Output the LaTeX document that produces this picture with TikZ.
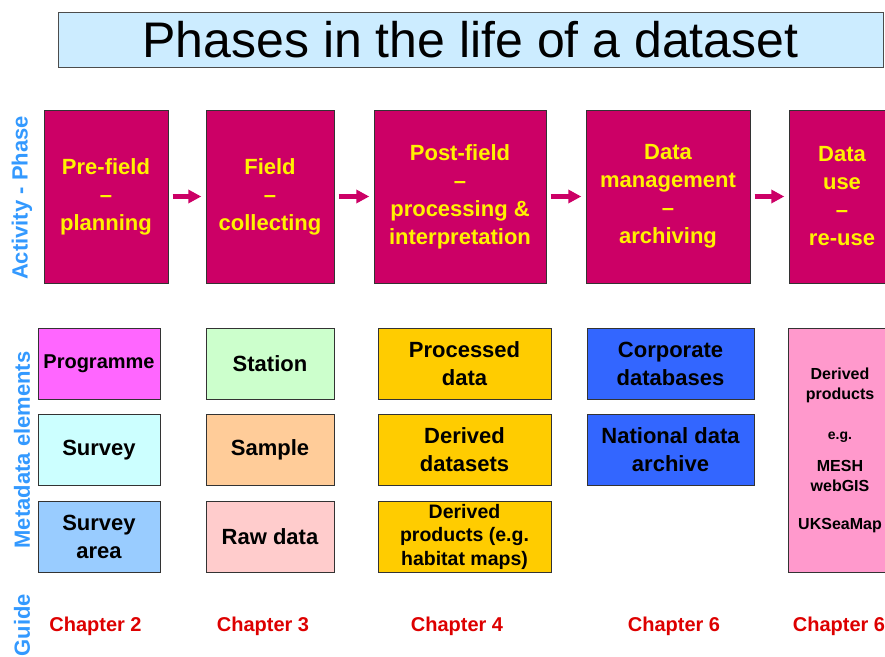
\documentclass[tikz,border=0pt]{standalone}
\usepackage{fontspec}
\setmainfont{Liberation Sans}
\usepackage {tikz}
\usetikzlibrary {positioning,arrows.meta}

\definecolor{phasered}{HTML}{CC0066}
\definecolor{titleblue}{HTML}{CCECFF}
\definecolor{sideblue}{HTML}{3399FF}
\definecolor{chapred}{HTML}{DD0000}
\definecolor{progpink}{HTML}{FF66FF}
\definecolor{survcyan}{HTML}{CCFFFF}
\definecolor{areablue}{HTML}{99CCFF}
\definecolor{statgreen}{HTML}{CCFFCC}
\definecolor{samppeach}{HTML}{FFCC99}
\definecolor{rawpink}{HTML}{FFCCCC}
\definecolor{procgold}{HTML}{FFCC00}
\definecolor{corpblue}{HTML}{3366FF}
\definecolor{derivpink}{HTML}{FF99CC}

\begin{document}
\begin{tikzpicture}[x=1pt ,y=-1pt ,node distance =86.5pt ,on grid ,
    phase/.style ={ rectangle ,draw=black!80 ,fill=phasered ,text=yellow ,
    minimum height =173pt ,inner sep=0pt ,align=center ,
    font=\fontsize{22}{28}\selectfont\bfseries},
    meta/.style ={ rectangle ,draw=black!80 ,minimum height =71pt ,
    inner sep=0pt ,align=center ,font=\fontsize{22}{28}\selectfont\bfseries},
    chap/.style ={text=chapred ,font=\fontsize{20}{24}\selectfont\bfseries},
    side/.style ={rotate=90 ,text=sideblue ,font=\fontsize{22}{26}\selectfont\bfseries},
    flow/.style ={-{Triangle[length=13pt,width=13pt]} ,draw=phasered ,
    line width=5pt ,shorten >=4.5pt ,shorten <=4.5pt}
    ]

    \useasboundingbox (0,0) rectangle (885,656);
    \clip (0,0) rectangle (885,656);

    % title
    \node[draw=black!70 ,fill=titleblue ,minimum width=825pt ,minimum height=55pt ,
      inner sep=0pt ,font=\fontsize{50}{56}\selectfont] (title) at (470.5,39.5)
      {Phases in the life of a dataset};

    % row labels
    \node[side] (act) at (22,198) {Activity - Phase};
    \node[side] (mel) at (22,450) {Metadata elements};
    \node[side] (gui) at (22,625) {Guide};

    % phases
    \node[phase ,minimum width=124pt] (pre) at (106,196.5) {Pre-field\\–\\planning};
    \node[phase ,minimum width=128pt] (field) at (270,196.5) {Field\\–\\collecting};
    \node[phase ,minimum width=172pt] (post) at (460,196.5)
      {Post-field\\–\\processing \&\\interpretation};
    \node[phase ,minimum width=164pt] (dman) at (668,196.5)
      {Data\\management\\–\\archiving};
    \node[phase ,minimum width=106pt] (reuse) at (842,196.5) {Data\\use\\–\\re-use};
    \draw[flow] (pre) -- (field);
    \draw[flow] (field) -- (post);
    \draw[flow] (post) -- (dman);
    \draw[flow] (dman) -- (reuse);

    % metadata elements
    \node[meta ,minimum width=122pt ,fill=progpink ,font=\fontsize{20}{24}\selectfont\bfseries]
      (prog) at (99,363.5) {Programme};
    \node[meta ,minimum width=122pt ,fill=survcyan] (surv) [below = of prog] {Survey};
    \node[meta ,minimum width=122pt ,fill=areablue] (area) [below = of surv] {Survey\\area};

    \node[meta ,minimum width=128pt ,fill=statgreen] (stat) at (270,363.5) {Station};
    \node[meta ,minimum width=128pt ,fill=samppeach] (samp) [below = of stat] {Sample};
    \node[meta ,minimum width=128pt ,fill=rawpink] (raw) [below = of samp] {Raw data};

    \node[meta ,minimum width=173pt ,fill=procgold] (proc) at (464.5,363.5)
      {Processed\\data};
    \node[meta ,minimum width=173pt ,fill=procgold] (dset) [below = of proc]
      {Derived\\datasets};
    \node[meta ,minimum width=173pt ,fill=procgold ,font=\fontsize{19.5}{23.5}\selectfont\bfseries]
      (dprod) [below = of dset] {Derived\\products (e.g.\\habitat maps)};

    \node[meta ,minimum width=167pt ,fill=corpblue] (corp) at (670.5,363.5)
      {Corporate\\databases};
    \node[meta ,minimum width=167pt ,fill=corpblue] (natarc) [below = of corp]
      {National data\\archive};

    \node[meta ,minimum width=104pt ,minimum height=244pt ,fill=derivpink ,
      font=\fontsize{16}{20}\selectfont\bfseries] (deriv) at (840,450)
      {Derived\\products\\[20pt]{\fontsize{14}{18}\selectfont e.g.}\\[12pt]MESH\\webGIS\\[18pt]UKSeaMap};

    % guide
    \node[chap] (ch2) at (95.5,626) {Chapter 2};
    \node[chap] (ch3) at (263,626) {Chapter 3};
    \node[chap] (ch4) at (457,626) {Chapter 4};
    \node[chap] (ch6a) at (674,626) {Chapter 6};
    \node[chap] (ch6b) at (839,626) {Chapter 6};
\end{tikzpicture}
\end{document}
